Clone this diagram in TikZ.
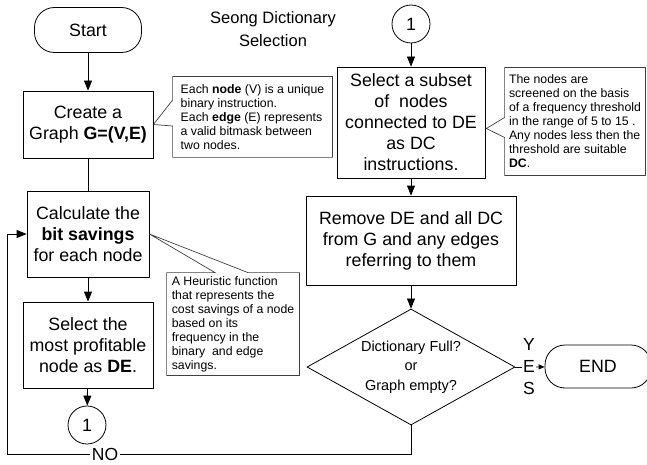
\documentclass[tikz,border=0pt]{standalone}
\usepackage{fontspec}
\setmainfont{Liberation Sans}
\usetikzlibrary{arrows.meta,shapes.geometric,calc}
\begin{document}
\begin{tikzpicture}[x=1pt,y=-1pt,>={Triangle[length=10pt,width=8pt]},line width=0.8pt,
            box/.style={draw,align=center,inner sep=2pt,font=\fontsize{17.8}{21}\selectfont},
            term/.style={draw,rounded corners=20pt,font=\fontsize{17.8}{21}\selectfont},
            conn/.style={draw,circle,minimum size=38pt,inner sep=0pt,font=\fontsize{17.8}{21}\selectfont},
            note/.style={align=left,inner sep=0pt,font=\fontsize{12.3}{14}\selectfont},
            notebox/.style={draw=black!75,line width=0.7pt}]
            \useasboundingbox (0,0) rectangle (647,465);

            \node[align=center,font=\fontsize{16.5}{23}\selectfont] (title) at (273,29) {Seong Dictionary\\Selection};

            \node[term,minimum width=107pt,minimum height=45pt] (start) at (88,30) {Start};
            \node[box,minimum width=130pt,minimum height=67pt] (create) at (88,124.5) {Create a\\Graph \textbf{G=(V,E)}};
            \node[box,minimum width=122pt,minimum height=86pt] (calc) at (88,234) {Calculate the\\\textbf{bit savings}\\for each node};
            \node[box,minimum width=130pt,minimum height=86pt] (pick) at (88,345) {Select the\\most profitable\\node as \textbf{DE}.};
            \node[conn] (c1b) at (87,425) {1};

            \node[conn] (c1a) at (411,24) {1};
            \node[box,minimum width=148pt,minimum height=111pt] (subset) at (411,122.5) {Select a subset\\of\ \ nodes\\connected to DE\\as DC\\instructions.};
            \node[box,minimum width=210pt,minimum height=89pt] (remove) at (411,240.5) {Remove DE and all DC\\from G and any edges\\referring to them};
            \node[draw,diamond,aspect=1.8,inner sep=0pt,minimum width=208pt,minimum height=116pt,align=center,font=\fontsize{14.5}{19.5}\selectfont] (decide) at (411,367) {Dictionary Full?\\or\\Graph empty?};
            \node[align=center,inner sep=1pt,font=\fontsize{17.5}{22}\selectfont] (yes) at (529,367) {Y\\E\\S};
            \node[term,minimum width=106pt,minimum height=43pt] (fin) at (598,366.5) {END};
            \node[inner sep=1pt,font=\fontsize{17.5}{21}\selectfont] (no) at (105,454) {NO};
            \coordinate (loop) at (7,454);

            \node[note,minimum width=159pt,minimum height=80pt] (note1) at (252.5,117) {Each \textbf{node} (V) is a unique\\binary instruction.\\Each \textbf{edge} (E) represents\\a valid bitmask between\\two nodes.};
            \node[note,minimum width=132pt,minimum height=102pt] (note2) at (233,324) {A Heuristic function\\that represents the\\cost savings of a node\\based on its\\frequency in the\\binary\ \ and edge\\savings.};
            \node[note,minimum width=140pt,minimum height=107pt] (note3) at (575,121.5) {The nodes are\\screened on the basis\\of a frequency threshold\\in the range of 5 to 15 .\\Any nodes less then the\\threshold are suitable\\\textbf{DC}.};

            \draw[notebox] (note1.north west) -- (note1.north east) -- (note1.south east) -- (note1.south west) -- ($(note1.west)+(0,9)$) -- (create.east) -- ($(note1.west)+(0,-17)$) -- cycle;
            \draw[notebox] (note2.north west) -- ($(note2.north)+(-18,0)$) -- (calc.east) -- ($(note2.north)+(15,0)$) -- (note2.north east) -- (note2.south east) -- (note2.south west) -- cycle;
            \draw[notebox] (note3.north west) -- (note3.north east) -- (note3.south east) -- (note3.south west) -- ($(note3.west)+(0,16)$) -- ($(subset.east)+(1,6)$) -- ($(note3.west)+(0,-4)$) -- cycle;

            \draw[->] (start) -- (create);
            \draw (create) -- (calc);
            \draw[->] (calc) -- (pick);
            \draw[->] (pick) -- (c1b);
            \draw[->] (c1a) -- (subset);
            \draw[->] (subset) -- (remove);
            \draw[->] (remove) -- (decide);
            \draw (decide) -- (yes);
            \draw[-{Triangle[length=6pt,width=5pt]}] (yes) -- (fin);
            \draw (decide.south) |- (no);
            \draw[->] (no) -- (loop) |- (calc.west);
        \end{tikzpicture}
\end{document}
